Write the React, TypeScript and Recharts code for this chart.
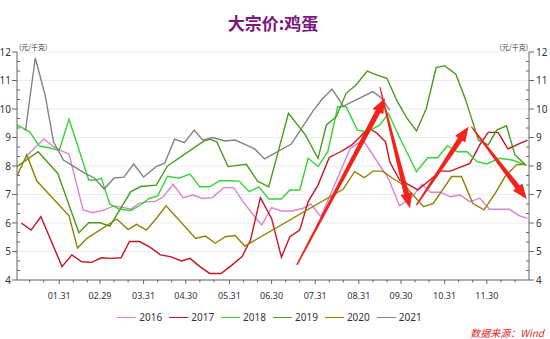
import React from "react";
import { CartesianGrid, Line, LineChart, ReferenceLine, XAxis, YAxis } from "recharts";

// x axis is day of year (leap year calendar), ticks at month ends
const xMajorTicks = [31, 60, 91, 121, 152, 182, 213, 244, 274, 305, 335];
const xMajorLabels = ["01.31", "02.29", "03.31", "04.30", "05.31", "06.30", "07.31", "08.31", "09.30", "10.31", "11.30"];
const xMinorTicks = [10, 20, 41, 51, 70, 80, 101, 111, 131, 141, 162, 172, 192, 202, 223, 233, 254, 264, 284, 294, 315, 325, 345, 355];
const yMajorTicks = [4, 5, 6, 7, 8, 9, 10, 11, 12];

const days2016 = [7, 20, 27, 33, 38, 48, 55, 63, 70, 82, 88, 95, 99, 105, 112, 119, 126, 133, 140, 148, 155, 162, 169, 175, 182, 189, 196, 204, 210, 217, 238, 247, 265, 273, 282, 289, 295, 302, 309, 316, 323, 330, 337, 351, 358, 364];
const values2016 = [8.31, 8.95, 8.68, 8.52, 8.42, 6.46, 6.36, 6.46, 6.6, 6.49, 6.7, 6.75, 6.75, 6.92, 7.36, 6.89, 6.98, 6.86, 6.89, 7.24, 7.24, 6.73, 6.28, 5.93, 6.54, 6.42, 6.42, 6.51, 6.66, 6.22, 8.62, 8.91, 7.57, 6.6, 6.92, 7.36, 7.08, 7.08, 6.92, 6.98, 6.75, 6.87, 6.48, 6.48, 6.26, 6.16];

const days2017 = [4, 11, 18, 33, 40, 47, 54, 61, 68, 75, 81, 88, 95, 103, 110, 118, 124, 131, 138, 146, 154, 161, 167, 174, 182, 189, 195, 202, 208, 215, 223, 231, 239, 245, 251, 257, 263, 266, 273, 280, 286, 302, 309, 323, 330, 336, 343, 350, 357, 364];
const values2017 = [6.0, 5.75, 6.22, 4.47, 4.88, 4.64, 4.62, 4.78, 4.76, 4.78, 5.35, 5.35, 5.17, 4.88, 4.82, 4.67, 4.76, 4.47, 4.23, 4.23, 4.53, 4.82, 5.4, 6.89, 6.16, 4.8, 5.52, 5.75, 6.75, 7.33, 8.3, 8.5, 8.74, 9.03, 9.34, 9.15, 8.85, 8.15, 7.51, 7.33, 7.16, 7.82, 7.82, 8.09, 8.74, 9.18, 9.18, 8.6, 8.76, 8.91];

const days2018 = [1, 10, 17, 24, 31, 38, 52, 57, 61, 67, 74, 82, 89, 95, 101, 108, 116, 124, 131, 138, 145, 152, 159, 166, 173, 180, 189, 195, 202, 208, 215, 222, 229, 235, 243, 250, 259, 265, 273, 285, 293, 300, 307, 314, 321, 328, 335, 344, 353, 363];
const values2018 = [9.44, 9.2, 8.7, 8.64, 8.55, 9.65, 7.51, 7.51, 7.57, 6.66, 6.48, 6.44, 6.64, 6.86, 6.95, 7.64, 7.57, 7.72, 7.27, 7.27, 7.48, 7.48, 7.47, 7.1, 7.27, 6.84, 6.84, 7.16, 7.16, 8.27, 7.98, 8.5, 10.08, 10.08, 9.26, 9.2, 9.44, 9.85, 9.0, 7.8, 8.29, 8.29, 8.71, 8.5, 8.5, 8.15, 8.07, 8.27, 8.21, 8.02];

const days2019 = [1, 16, 30, 45, 52, 60, 67, 82, 89, 100, 108, 134, 138, 143, 151, 164, 172, 180, 194, 206, 215, 221, 228, 235, 242, 250, 257, 264, 271, 278, 285, 292, 299, 305, 313, 320, 329, 336, 342, 349, 355, 363];
const values2019 = [7.98, 8.5, 7.74, 5.66, 6.01, 6.01, 5.89, 7.1, 7.28, 7.33, 8.0, 8.88, 8.94, 8.85, 7.98, 8.06, 7.47, 7.27, 9.85, 9.09, 8.27, 9.44, 9.73, 10.55, 10.84, 11.33, 11.19, 11.08, 10.3, 9.7, 9.23, 10.02, 11.45, 11.52, 11.22, 10.32, 8.91, 8.74, 9.26, 9.41, 8.39, 8.02];

const days2020 = [1, 8, 15, 38, 44, 51, 72, 80, 86, 93, 100, 107, 128, 135, 142, 149, 156, 163, 233, 241, 248, 254, 261, 268, 277, 290, 297, 310, 317, 325, 333, 341, 348, 356, 362];
const values2020 = [7.66, 8.39, 7.48, 6.25, 5.12, 5.47, 6.14, 5.77, 5.95, 5.75, 6.16, 6.6, 5.46, 5.54, 5.29, 5.52, 5.56, 5.19, 7.19, 7.8, 7.59, 7.82, 7.82, 7.57, 7.3, 6.57, 6.69, 7.63, 7.63, 6.69, 6.46, 7.04, 7.63, 8.04, 8.06];

const days2021 = [7, 14, 21, 27, 34, 49, 56, 63, 70, 77, 84, 91, 100, 106, 113, 120, 127, 133, 140, 149, 156, 163, 170, 177, 196, 211, 218, 225, 233, 254, 260, 266];
const values2021 = [9.23, 11.79, 10.49, 8.84, 8.21, 7.75, 7.58, 7.19, 7.58, 7.61, 8.07, 7.61, 7.98, 8.1, 8.94, 8.82, 9.26, 8.91, 9.0, 8.88, 8.91, 8.76, 8.6, 8.25, 8.77, 9.9, 10.35, 10.7, 10.1, 10.61, 10.39, 9.96];

// hand-drawn trend arrows (day, price) from tail to tip
const arrowTails = [[200, 4.53], [259, 10.78], [285, 6.63], [324, 9.38]];
const arrowTips = [[262.6, 10.38], [280.4, 6.52], [322, 9.38], [363.4, 6.84]];
const arrowTailWidths = [1.5, 1, 1.5, 1];

const toPoints = (days: number[], values: number[]) =>
  days.map((day, i) => ({ day, value: values[i] }));

const series = [
  { name: "2016", color: "#d884d2", data: toPoints(days2016, values2016) },
  { name: "2017", color: "#c8141e", data: toPoints(days2017, values2017) },
  { name: "2018", color: "#33d633", data: toPoints(days2018, values2018) },
  { name: "2019", color: "#4a9a1c", data: toPoints(days2019, values2019) },
  { name: "2020", color: "#8f8200", data: toPoints(days2020, values2020) },
  { name: "2021", color: "#828282", data: toPoints(days2021, values2021) },
];

const AXIS = "#666";
const TEXT = "#333";
const ARROW = "#f2231b";

function XTick(props: any) {
  const { x, y, payload } = props;
  const idx = xMajorTicks.indexOf(payload.value);
  const major = idx >= 0;
  return (
    <g>
      <line x1={x} y1={y} x2={x} y2={y + (major ? 4 : 2.5)} stroke={AXIS} />
      {major && (
        <text x={x} y={y + 19} textAnchor="middle" fontSize={9} fill={TEXT}>
          {xMajorLabels[idx]}
        </text>
      )}
    </g>
  );
}

const isMajor = (v: number) => Math.abs(v - Math.round(v)) < 1e-6;

function LeftTick(props: any) {
  const { x, y, payload } = props;
  const major = isMajor(payload.value);
  return (
    <g>
      {major ? (
        <line x1={x - 5} y1={y} x2={x} y2={y} stroke={AXIS} />
      ) : (
        <line x1={x} y1={y} x2={x + 3} y2={y} stroke={AXIS} />
      )}
      {major && (
        <text x={x - 6} y={y + 3.5} textAnchor="end" fontSize={10} fill={TEXT}>
          {Math.round(payload.value)}
        </text>
      )}
    </g>
  );
}

function RightTick(props: any) {
  const { x, y, payload } = props;
  const major = isMajor(payload.value);
  return (
    <g>
      {major ? (
        <line x1={x} y1={y} x2={x + 5} y2={y} stroke={AXIS} />
      ) : (
        <line x1={x - 3} y1={y} x2={x} y2={y} stroke={AXIS} />
      )}
      {major && (
        <text x={x + 7} y={y + 3.5} textAnchor="start" fontSize={10} fill={TEXT}>
          {Math.round(payload.value)}
        </text>
      )}
    </g>
  );
}

function arrowShape(tailW: number) {
  return (props: any) => {
    const { x1, y1, x2, y2 } = props;
    const dx = x2 - x1;
    const dy = y2 - y1;
    const len = Math.hypot(dx, dy) || 1;
    const ux = dx / len;
    const uy = dy / len;
    const nx = -uy;
    const ny = ux;
    const headL = 15;
    const headW = 12;
    const shaftW = 5.5;
    const bx = x2 - ux * headL;
    const by = y2 - uy * headL;
    const pts = [
      [x1 + (nx * tailW) / 2, y1 + (ny * tailW) / 2],
      [bx + (nx * shaftW) / 2, by + (ny * shaftW) / 2],
      [bx + (nx * headW) / 2, by + (ny * headW) / 2],
      [x2, y2],
      [bx - (nx * headW) / 2, by - (ny * headW) / 2],
      [bx - (nx * shaftW) / 2, by - (ny * shaftW) / 2],
      [x1 - (nx * tailW) / 2, y1 - (ny * tailW) / 2],
    ];
    return <polygon points={pts.map((p) => p.join(",")).join(" ")} fill={ARROW} />;
  };
}

const yTicks: number[] = [];
yMajorTicks.forEach((v, i) => {
  yTicks.push(v);
  if (i < yMajorTicks.length - 1) {
    yTicks.push(v + 1 / 3, v + 2 / 3);
  }
});
const xTicks = [...xMinorTicks, ...xMajorTicks].sort((a, b) => a - b);

export default function App() {
  return (
    <div
      style={{
        position: "absolute",
        left: 0,
        top: 0,
        width: 550,
        height: 339,
        background: "#fff",
        fontFamily: "'Noto Sans', 'Noto Sans CJK SC', sans-serif",
      }}
    >
      <div
        style={{
          position: "absolute",
          top: 12,
          left: 0,
          width: 546,
          textAlign: "center",
          fontSize: 17,
          fontWeight: 700,
          color: "#7b177b",
          fontFamily: "'Noto Sans CJK SC', sans-serif",
          lineHeight: "22px",
        }}
      >
        大宗价:鸡蛋
      </div>
      <div
        style={{
          position: "absolute",
          top: 42,
          left: 19,
          fontSize: 7,
          color: TEXT,
          fontFamily: "'Noto Sans CJK SC', sans-serif",
          lineHeight: "10px",
        }}
      >
        (元/千克)
      </div>
      <div
        style={{
          position: "absolute",
          top: 42,
          right: 22,
          fontSize: 7,
          color: TEXT,
          fontFamily: "'Noto Sans CJK SC', sans-serif",
          lineHeight: "10px",
        }}
      >
        (元/千克)
      </div>

      <LineChart width={550} height={339} margin={{ top: 52, right: 0, bottom: 0, left: 0 }}>
        <CartesianGrid
          yAxisId="left"
          vertical={false}
          horizontalValues={yMajorTicks}
          stroke="#ececec"
        />
        <XAxis
          type="number"
          dataKey="day"
          domain={[1, 365]}
          ticks={xTicks}
          interval={0}
          height={59}
          tickSize={0}
          tickMargin={0}
          tickLine={false}
          axisLine={{ stroke: AXIS }}
          tick={(p: any) => <XTick {...p} />}
          allowDataOverflow
        />
        <YAxis
          yAxisId="left"
          type="number"
          domain={[4, 12]}
          ticks={yTicks}
          interval={0}
          width={17}
          tickSize={0}
          tickMargin={0}
          tickLine={false}
          axisLine={{ stroke: AXIS }}
          tick={(p: any) => <LeftTick {...p} />}
          allowDataOverflow
        />
        <YAxis
          yAxisId="right"
          orientation="right"
          type="number"
          domain={[4, 12]}
          ticks={yTicks}
          interval={0}
          width={21}
          tickSize={0}
          tickMargin={0}
          tickLine={false}
          axisLine={{ stroke: AXIS }}
          tick={(p: any) => <RightTick {...p} />}
          allowDataOverflow
        />
        {series.map((s) => (
          <Line
            key={s.name}
            yAxisId="left"
            data={s.data}
            dataKey="value"
            name={s.name}
            type="linear"
            stroke={s.color}
            strokeWidth={1.4}
            dot={false}
            activeDot={false}
            isAnimationActive={false}
          />
        ))}
        {arrowTails.map((tail, i) => (
          <ReferenceLine
            key={`arrow-${i}`}
            yAxisId="left"
            segment={[
              { x: tail[0], y: tail[1] },
              { x: arrowTips[i][0], y: arrowTips[i][1] },
            ]}
            ifOverflow="visible"
            shape={arrowShape(arrowTailWidths[i])}
          />
        ))}
      </LineChart>

      <div
        style={{
          position: "absolute",
          top: 310,
          left: 0,
          width: 546,
          display: "flex",
          justifyContent: "center",
          alignItems: "center",
          fontSize: 10,
          color: TEXT,
          lineHeight: "14px",
        }}
      >
        {series.map((s) => (
          <div key={s.name} style={{ display: "flex", alignItems: "center", marginRight: 7 }}>
            <span
              style={{
                display: "inline-block",
                width: 19,
                height: 0,
                borderTop: `1.5px solid ${s.color}`,
                marginRight: 3,
              }}
            />
            <span>{s.name}</span>
          </div>
        ))}
      </div>
      <div
        style={{
          position: "absolute",
          top: 326,
          right: 6,
          fontSize: 10,
          fontStyle: "italic",
          color: "#e02828",
          lineHeight: "13px",
          fontFamily: "'Noto Sans CJK SC', sans-serif",
        }}
      >
        数据来源：Wind
      </div>
    </div>
  );
}
